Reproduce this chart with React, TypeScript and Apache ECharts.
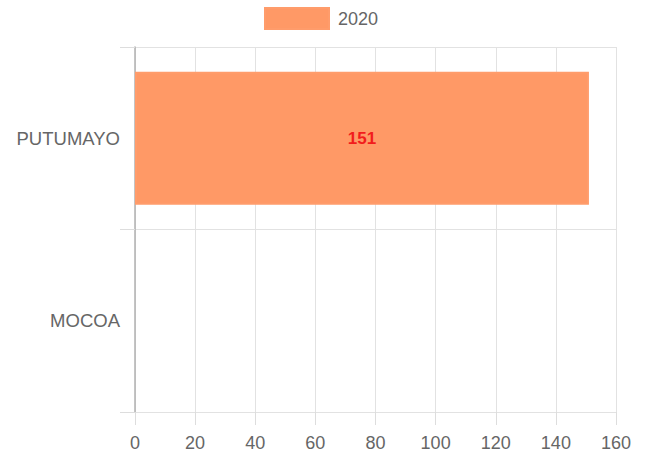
import React, { useEffect, useRef } from "react";
import * as echarts from "echarts";

const categories = ["MOCOA", "PUTUMAYO"];
const seriesName = "2020";
const values: (number | null)[] = [null, 151];
const xTicks = { min: 0, max: 160, interval: 20 };

export default function App() {
  const ref = useRef<HTMLDivElement>(null);
  useEffect(() => {
    if (!ref.current) return;
    const chart = echarts.init(ref.current, undefined, { renderer: "svg" });
    const font = "Liberation Sans, Arial, Helvetica, sans-serif";
    chart.setOption({
      animation: false,
      textStyle: { fontFamily: font },
      legend: {
        data: [seriesName],
        left: 259,
        top: 2,
        itemWidth: 64,
        itemHeight: 21,
        itemGap: 10,
        icon: "rect",
        textStyle: { fontSize: 18, color: "#666", fontFamily: font, padding: [0, 0, 0, 4] },
      },
      grid: { left: 135, right: 33, top: 47, bottom: 40, containLabel: false },
      xAxis: {
        type: "value",
        min: xTicks.min,
        max: xTicks.max,
        interval: xTicks.interval,
        axisLine: { show: false },
        axisTick: { show: true, length: 13, lineStyle: { color: "#ddd" } },
        splitLine: { show: true, lineStyle: { color: "#e2e2e2" } },
        axisLabel: { fontSize: 18, color: "#666", margin: 22, fontFamily: font },
      },
      yAxis: {
        type: "category",
        data: categories,
        axisLine: { show: true, lineStyle: { color: "#b0b0b0", width: 1.5 } },
        axisTick: { show: true, length: 15, lineStyle: { color: "#ddd" } },
        splitLine: { show: true, lineStyle: { color: "#e2e2e2" } },
        axisLabel: { fontSize: 18.5, color: "#666", margin: 15, fontFamily: font },
      },
      series: [
        {
          name: seriesName,
          type: "bar",
          data: values,
          barWidth: "73%",
          itemStyle: { color: "#ff9966", borderColor: "#ff9c6b", borderWidth: 2 },
          label: {
            show: true,
            position: "inside",
            color: "#f21c1c",
            fontWeight: "bold",
            fontSize: 17,
            fontFamily: font,
          },
        },
      ],
    });
    return () => chart.dispose();
  }, []);
  return (
    <div
      ref={ref}
      style={{ position: "absolute", left: 0, top: 0, width: 649, height: 452 }}
    />
  );
}
